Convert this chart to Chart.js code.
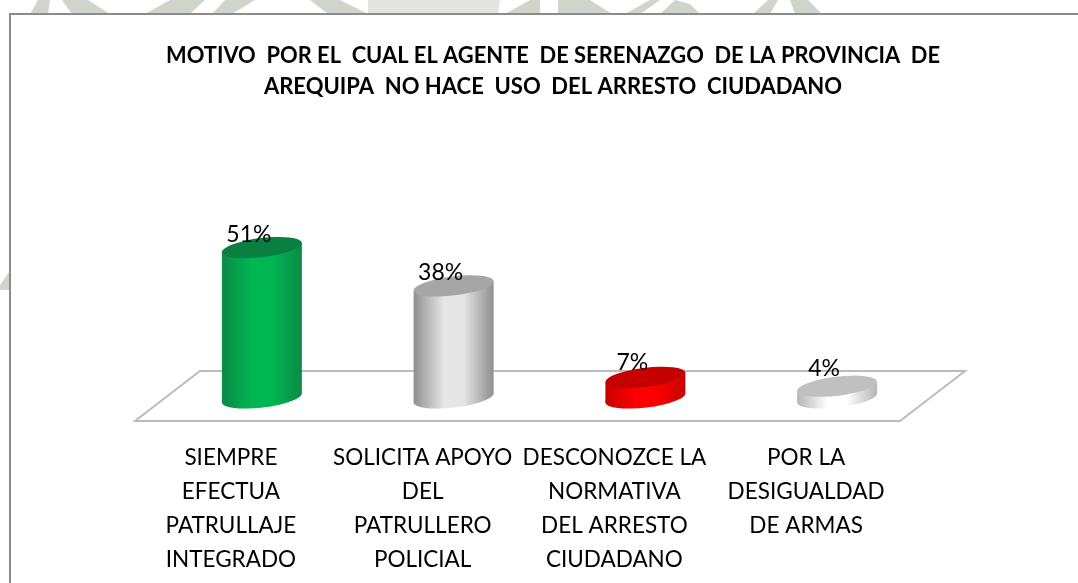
<!DOCTYPE html>
<html lang="es">
<head>
<meta charset="utf-8">
<title>Motivo por el cual el agente de serenazgo no hace uso del arresto ciudadano</title>
<script src="https://cdn.jsdelivr.net/npm/chart.js@4/dist/chart.umd.min.js"></script>
<style>
html,body{margin:0;padding:0;background:#fff;width:1078px;height:583px;overflow:hidden}
#wm{position:absolute;left:0;top:0;filter:blur(.7px)}
#frame{position:absolute;left:9px;top:13px;width:1080px;height:580px;background:#fff;border:2px solid #8c8c8c;box-sizing:border-box}
#wrap{position:absolute;left:28px;top:0;width:1050px;height:583px;overflow:hidden}
</style>
</head>
<body>
<svg id="wm" width="1078" height="583" viewBox="0 0 1078 583" aria-hidden="true">
  <g fill="#cfd5cb">
    <polygon points="30,14 38,0 50,0 48,14"/>
    <polygon points="62,0 88,0 110,14 72,14"/>
    <polygon points="145,14 170,0 205,0 190,14"/>
    <polygon points="225,0 255,0 232,14 212,14"/>
    <polygon points="310,0 340,0 368,14 328,14"/>
    <polygon points="505,14 530,0 540,0 540,14"/>
    <polygon points="558,0 590,0 612,14 558,14"/>
    <polygon points="625,14 650,0 660,0 640,14"/>
    <polygon points="660,14 675,0 690,4 700,14"/>
    <polygon points="753,14 768,0 778,0 770,14"/>
    <polygon points="790,0 808,0 822,14 795,14"/>
    <polygon points="0,290 0,285 9,272 9,290"/>
  </g>
  <g fill="#e3e6e0">
    <polygon points="368,0 500,0 498,14 368,14"/>
  </g>
</svg>
<div id="frame"></div>
<div id="wrap"><canvas id="c" width="1050" height="612"></canvas></div>
<script>
const categories = [
  ["SIEMPRE","EFECTUA","PATRULLAJE","INTEGRADO"],
  ["SOLICITA APOYO","DEL","PATRULLERO","POLICIAL"],
  ["DESCONOZCE LA","NORMATIVA","DEL ARRESTO","CIUDADANO"],
  ["POR LA","DESIGUALDAD","DE ARMAS"]
];
const values = [51, 38, 7, 4];
const titleLines = [
  "MOTIVO  POR EL  CUAL EL AGENTE  DE SERENAZGO  DE LA PROVINCIA  DE",
  "AREQUIPA  NO HACE  USO  DEL ARRESTO  CIUDADANO"
];
const topColors  = ["#0a8040", "#a6a6a6", "#c40000", "#c0c0c0"];
const edgeColors = ["#0b8a46", "#8e8e8e", "#c80000", "#b4b4b4"];
const midColors  = ["#00b653", "#e6e6e6", "#ff0000", "#ffffff"];
const FONT = 'Lato, sans-serif';

const cylinders = {
  id: 'cylinders',
  beforeDatasetsDraw(chart) {
    const {ctx, chartArea: a} = chart;
    ctx.save();
    ctx.beginPath();
    ctx.moveTo(a.left - 31, a.bottom + 23);
    ctx.lineTo(a.right - 33, a.bottom + 23);
    ctx.lineTo(a.right + 32, a.bottom - 27);
    ctx.lineTo(a.left + 34, a.bottom - 27);
    ctx.closePath();
    ctx.fillStyle = '#fff';
    ctx.fill();
    ctx.strokeStyle = '#bcbcbc';
    ctx.lineWidth = 2;
    ctx.stroke();
    ctx.restore();
  },
  beforeDatasetDraw(chart, args) {
    const {ctx} = chart;
    const meta = args.meta;
    meta.data.forEach((el, i) => {
      const rx = el.width / 2, ry = 9.5, rot = -0.12;
      const dx = rx * Math.cos(rot), dy = rx * Math.sin(rot);
      const g = ctx.createLinearGradient(el.x - rx, 0, el.x + rx, 0);
      g.addColorStop(0, edgeColors[i]);
      g.addColorStop(0.38, midColors[i]);
      g.addColorStop(0.62, midColors[i]);
      g.addColorStop(1, edgeColors[i]);
      ctx.save();
      ctx.fillStyle = g;
      ctx.beginPath();
      ctx.ellipse(el.x, el.base, rx, ry, rot, 0, Math.PI * 2);
      ctx.fill();
      ctx.beginPath();
      ctx.moveTo(el.x - dx, el.y - dy);
      ctx.lineTo(el.x + dx, el.y + dy);
      ctx.lineTo(el.x + dx, el.base + dy);
      ctx.lineTo(el.x - dx, el.base - dy);
      ctx.closePath();
      ctx.fill();
      ctx.fillStyle = topColors[i];
      ctx.beginPath();
      ctx.ellipse(el.x, el.y, rx, ry, rot, 0, Math.PI * 2);
      ctx.fill();
      ctx.restore();
    });
    return false;
  },
  afterDatasetsDraw(chart) {
    const {ctx} = chart;
    const meta = chart.getDatasetMeta(0);
    const extraLift = [0, 0, 2, 5];
    ctx.save();
    ctx.font = '23px ' + FONT;
    ctx.fillStyle = '#000';
    ctx.textAlign = 'center';
    ctx.textBaseline = 'middle';
    meta.data.forEach((el, i) => {
      ctx.fillText(values[i] + '%', el.x - 13, el.y - 13 - extraLift[i]);
    });
    ctx.restore();
  }
};

new Chart(document.getElementById('c'), {
  type: 'bar',
  data: {
    labels: categories,
    datasets: [{
      data: values,
      backgroundColor: midColors,
      barPercentage: 0.42,
      categoryPercentage: 1
    }]
  },
  options: {
    responsive: false,
    animation: false,
    layout: {padding: {left: 138, right: 138, top: 0, bottom: 0}},
    plugins: {
      legend: {display: false},
      tooltip: {enabled: false},
      title: {
        display: true,
        text: titleLines,
        color: '#000',
        font: {family: FONT, size: 22, weight: 'bold', lineHeight: 1.409},
        padding: {top: 40, bottom: 1}
      }
    },
    scales: {
      x: {
        grid: {display: false},
        border: {display: false},
        ticks: {
          color: '#000',
          font: {family: FONT, size: 22.5, lineHeight: 1.511},
          padding: 35,
          labelOffset: -31,
          maxRotation: 0,
          autoSkip: false
        }
      },
      y: {
        position: 'right',
        min: 0,
        max: 100,
        grid: {display: false},
        border: {display: false},
        ticks: {display: false},
        afterFit(scale) { scale.width = 7; }
      }
    }
  },
  plugins: [cylinders]
});
</script>
</body>
</html>
